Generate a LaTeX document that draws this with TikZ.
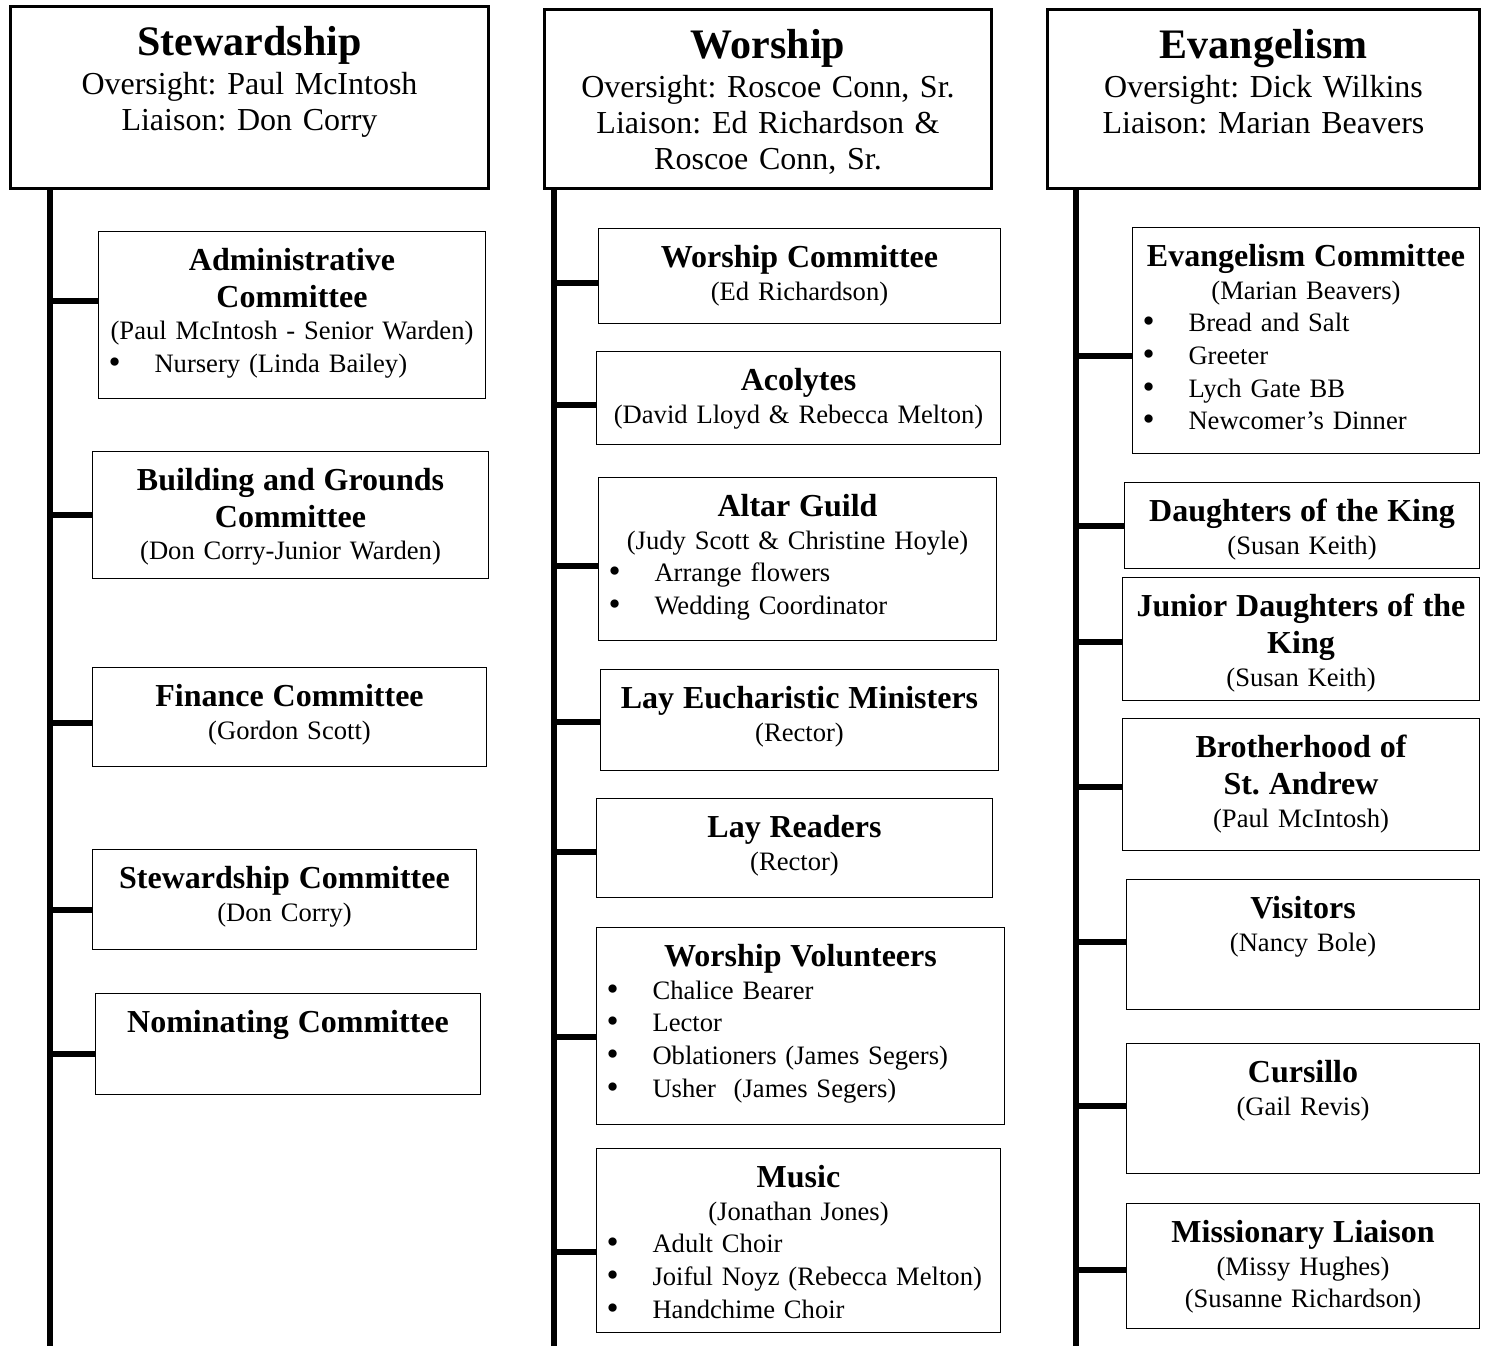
\documentclass[tikz,border=0pt]{standalone}
\usepackage{fontspec}
\setmainfont{Liberation Serif}
\frenchspacing
\newcommand\hdfont{\fontsize{16}{18.3}\selectfont\bfseries}
\newcommand\ttlfont{\fontsize{21}{24}\selectfont\bfseries}
\newcommand\bul[1]{\makebox[\hsize][l]{\hspace{5pt}\makebox[23pt][l]{\raisebox{-0.5pt}{\scalebox{1.3}{\textbullet}}}#1}}
\begin{document}
\begin{tikzpicture}[x=0.5pt,y=-0.5pt,
  hdr/.style={draw,line width=1.5pt,anchor=north west,inner sep=0pt},
  sub/.style={draw,line width=0.5pt,anchor=north west,inner sep=0pt},
  txt/.style={anchor=north,inner sep=0pt,align=center,font=\fontsize{13.3}{16.3}\selectfont},
  htxt/.style={anchor=north,inner sep=0pt,align=center,font=\fontsize{16}{18}\selectfont},
  trunk/.style={line width=3pt},
  branch/.style={line width=2.75pt}]
\useasboundingbox (0,0) rectangle (1486,1346);

% heads
\node[hdr,minimum width=239pt,minimum height=91pt] (h1) at (9,5) {};
\node[hdr,minimum width=223.5pt,minimum height=89.5pt] (h2) at (543,8) {};
\node[hdr,minimum width=216pt,minimum height=89.5pt] (h3) at (1046,8) {};
\node[htxt,text width=239pt] (th1) at ([yshift=-10.5pt]h1.north)
  {{\ttlfont Stewardship}\\[1.25pt] Oversight: Paul McIntosh\\ Liaison: Don Corry};
\node[htxt,text width=223.5pt] (th2) at ([yshift=-10.5pt]h2.north)
  {{\ttlfont Worship}\\[1.25pt] Oversight: Roscoe Conn, Sr.\\ Liaison: Ed Richardson \&\\ Roscoe Conn, Sr.};
\node[htxt,text width=216pt] (th3) at ([yshift=-10.5pt]h3.north)
  {{\ttlfont Evangelism}\\[1.25pt] Oversight: Dick Wilkins\\ Liaison: Marian Beavers};

% trunks
\coordinate (e1) at (50,1346);
\coordinate (e2) at (553.5,1346);
\coordinate (e3) at (1076,1346);
\draw[trunk] (h1.south -| e1) -- (e1);
\draw[trunk] (h2.south -| e2) -- (e2);
\draw[trunk] (h3.south -| e3) -- (e3);

% stewardship
\node[sub,minimum width=193.5pt,minimum height=83.5pt] (a1) at (98,231) {};
\node[sub,minimum width=198pt,minimum height=63.5pt] (a2) at (92,451) {};
\node[sub,minimum width=197pt,minimum height=49.5pt] (a3) at (92,667) {};
\node[sub,minimum width=192pt,minimum height=50pt] (a4) at (92,849) {};
\node[sub,minimum width=192.5pt,minimum height=50.5pt] (a5) at (95,993) {};
\node[txt,text width=193.5pt] (ta1) at ([yshift=-8.5pt]a1.north)
  {{\hdfont Administrative\\[2pt] Committee}\\ (Paul McIntosh - Senior Warden)\\ \bul{Nursery (Linda Bailey)}};
\node[txt,text width=198pt] (ta2) at ([yshift=-8.5pt]a2.north)
  {{\hdfont Building and Grounds\\[2pt] Committee}\\ (Don Corry-Junior Warden)};
\node[txt,text width=197pt] (ta3) at ([yshift=-8.5pt]a3.north)
  {{\hdfont Finance Committee}\\ (Gordon Scott)};
\node[txt,text width=192pt] (ta4) at ([yshift=-8.5pt]a4.north)
  {{\hdfont Stewardship Committee}\\ (Don Corry)};
\node[txt,text width=192.5pt] (ta5) at ([yshift=-8.5pt]a5.north)
  {{\hdfont Nominating Committee}};

% worship
\node[sub,minimum width=201pt,minimum height=47.5pt] (b1) at (598,228) {};
\node[sub,minimum width=202pt,minimum height=46.5pt] (b2) at (596,351) {};
\node[sub,minimum width=199pt,minimum height=81.5pt] (b3) at (598,477) {};
\node[sub,minimum width=199pt,minimum height=50.5pt] (b4) at (600,669) {};
\node[sub,minimum width=198pt,minimum height=49.5pt] (b5) at (596,798) {};
\node[sub,minimum width=204pt,minimum height=98.5pt] (b6) at (596,927) {};
\node[sub,minimum width=202pt,minimum height=92pt] (b7) at (596,1148) {};
\node[txt,text width=201pt] (tb1) at ([yshift=-8.5pt]b1.north)
  {{\hdfont Worship Committee}\\ (Ed Richardson)};
\node[txt,text width=202pt] (tb2) at ([yshift=-8.5pt]b2.north)
  {{\hdfont Acolytes}\\ (David Lloyd \& Rebecca Melton)};
\node[txt,text width=199pt] (tb3) at ([yshift=-8.5pt]b3.north)
  {{\hdfont Altar Guild}\\ (Judy Scott \& Christine Hoyle)\\ \bul{Arrange flowers}\\ \bul{Wedding Coordinator}};
\node[txt,text width=199pt] (tb4) at ([yshift=-8.5pt]b4.north)
  {{\hdfont Lay Eucharistic Ministers}\\ (Rector)};
\node[txt,text width=198pt] (tb5) at ([yshift=-8.5pt]b5.north)
  {{\hdfont Lay Readers}\\ (Rector)};
\node[txt,text width=204pt] (tb6) at ([yshift=-8.5pt]b6.north)
  {{\hdfont Worship Volunteers}\\ \bul{Chalice Bearer}\\ \bul{Lector}\\ \bul{Oblationers (James Segers)}\\ \bul{Usher~~(James Segers)}};
\node[txt,text width=202pt] (tb7) at ([yshift=-8.5pt]b7.north)
  {{\hdfont Music}\\ (Jonathan Jones)\\ \bul{Adult Choir}\\ \bul{Joiful Noyz (Rebecca Melton)}\\ \bul{Handchime Choir}};

% evangelism
\node[sub,minimum width=173.5pt,minimum height=113pt] (c1) at (1132,227) {};
\node[sub,minimum width=177.5pt,minimum height=43pt] (c2) at (1124,482) {};
\node[sub,minimum width=178.5pt,minimum height=61.5pt] (c3) at (1122,577) {};
\node[sub,minimum width=178.5pt,minimum height=66pt] (c4) at (1122,718) {};
\node[sub,minimum width=176.5pt,minimum height=65pt] (c5) at (1126,879) {};
\node[sub,minimum width=176.5pt,minimum height=65pt] (c6) at (1126,1043) {};
\node[sub,minimum width=176.5pt,minimum height=62.5pt] (c7) at (1126,1203) {};
\node[txt,text width=173.5pt] (tc1) at ([yshift=-8.5pt]c1.north)
  {{\hdfont Evangelism Committee}\\ (Marian Beavers)\\ \bul{Bread and Salt}\\ \bul{Greeter}\\ \bul{Lych Gate BB}\\ \bul{Newcomer’s Dinner}};
\node[txt,text width=177.5pt] (tc2) at ([yshift=-8.5pt]c2.north)
  {{\hdfont Daughters of the King}\\ (Susan Keith)};
\node[txt,text width=178.5pt] (tc3) at ([yshift=-8.5pt]c3.north)
  {{\hdfont Junior Daughters of the\\[2pt] King}\\ (Susan Keith)};
\node[txt,text width=178.5pt] (tc4) at ([yshift=-8.5pt]c4.north)
  {{\hdfont Brotherhood of\\[2pt] St. Andrew}\\ (Paul McIntosh)};
\node[txt,text width=176.5pt] (tc5) at ([yshift=-8.5pt]c5.north)
  {{\hdfont Visitors}\\ (Nancy Bole)};
\node[txt,text width=176.5pt] (tc6) at ([yshift=-8.5pt]c6.north)
  {{\hdfont Cursillo}\\ (Gail Revis)};
\node[txt,text width=176.5pt] (tc7) at ([yshift=-8.5pt]c7.north)
  {{\hdfont Missionary Liaison}\\ (Missy Hughes)\\ (Susanne Richardson)};

% branches
\coordinate (ka1) at (50,301);
\coordinate (ka2) at (50,515);
\coordinate (ka3) at (50,723);
\coordinate (ka4) at (50,910);
\coordinate (ka5) at (50,1054);
\coordinate (kb1) at (553.5,283);
\coordinate (kb2) at (553.5,405);
\coordinate (kb3) at (553.5,566);
\coordinate (kb4) at (553.5,722);
\coordinate (kb5) at (553.5,852);
\coordinate (kb6) at (553.5,1037);
\coordinate (kb7) at (553.5,1252);
\coordinate (kc1) at (1076,356);
\coordinate (kc2) at (1076,526);
\coordinate (kc3) at (1076,642);
\coordinate (kc4) at (1076,787);
\coordinate (kc5) at (1076,942);
\coordinate (kc6) at (1076,1106);
\coordinate (kc7) at (1076,1270);
\draw[branch] (ka1) -- (ka1 -| a1.west);
\draw[branch] (ka2) -- (ka2 -| a2.west);
\draw[branch] (ka3) -- (ka3 -| a3.west);
\draw[branch] (ka4) -- (ka4 -| a4.west);
\draw[branch] (ka5) -- (ka5 -| a5.west);
\draw[branch] (kb1) -- (kb1 -| b1.west);
\draw[branch] (kb2) -- (kb2 -| b2.west);
\draw[branch] (kb3) -- (kb3 -| b3.west);
\draw[branch] (kb4) -- (kb4 -| b4.west);
\draw[branch] (kb5) -- (kb5 -| b5.west);
\draw[branch] (kb6) -- (kb6 -| b6.west);
\draw[branch] (kb7) -- (kb7 -| b7.west);
\draw[branch] (kc1) -- (kc1 -| c1.west);
\draw[branch] (kc2) -- (kc2 -| c2.west);
\draw[branch] (kc3) -- (kc3 -| c3.west);
\draw[branch] (kc4) -- (kc4 -| c4.west);
\draw[branch] (kc5) -- (kc5 -| c5.west);
\draw[branch] (kc6) -- (kc6 -| c6.west);
\draw[branch] (kc7) -- (kc7 -| c7.west);
\end{tikzpicture}
\end{document}
